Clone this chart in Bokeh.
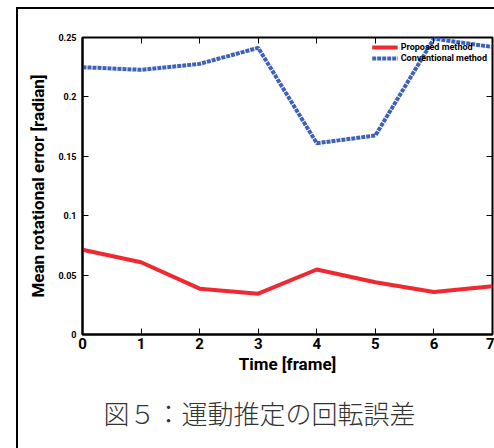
from bokeh.plotting import figure
from bokeh.models import (Range1d, FixedTicker, LinearAxis, Legend, LegendItem, Title)
from bokeh.embed import file_html
from bokeh.resources import INLINE

frames = [0, 1, 2, 3, 4, 5, 6, 7]
proposed = [0.0714, 0.0608, 0.0386, 0.0344, 0.0547, 0.0440, 0.0358, 0.0406]
conventional = [0.2250, 0.2228, 0.2278, 0.2413, 0.1610, 0.1675, 0.2490, 0.2420]
y_ticks = [0, 0.05, 0.1, 0.15, 0.2, 0.25]
y_tick_labels = ["0", "0.05", "0.1", "0.15", "0.2", "0.25"]
series_names = ["Proposed method", "Conventional method"]
x_title = "Time [frame]"
y_title = "Mean rotational error [radian]"
caption = "図５：運動推定の回転誤差"

FONT = "Roboto"

p = figure(width=494, height=448, output_backend="svg", toolbar_location=None,
           x_range=Range1d(0, 7), y_range=Range1d(0, 0.25),
           min_border_left=82, min_border_top=37, min_border_right=2,
           min_border_bottom=114)
p.grid.visible = False
p.outline_line_color = "black"
p.outline_line_width = 2
p.background_fill_color = "white"
p.border_fill_alpha = 0
p.styles = {
    "background": "linear-gradient(#000, #000) 16px 7px / 2px 100% no-repeat, "
                  "linear-gradient(#000, #000) 16px 7px / 100% 2px no-repeat, #ffffff"
}

# bottom axis
xa = p.xaxis[0]
xa.ticker = FixedTicker(ticks=frames)
xa.major_tick_in = 6
xa.major_tick_out = 0
xa.minor_tick_line_color = None
xa.axis_line_width = 2
xa.major_label_text_font = FONT
xa.major_label_text_font_style = "bold"
xa.major_label_text_font_size = "15px"
xa.major_label_text_color = "black"
xa.major_label_standoff = 3
xa.axis_label = x_title
xa.axis_label_text_font = FONT
xa.axis_label_text_font_style = "bold"
xa.axis_label_text_font_size = "17px"
xa.axis_label_text_color = "black"
xa.axis_label_standoff = 2

# left axis
ya = p.yaxis[0]
ya.ticker = FixedTicker(ticks=y_ticks)
ya.major_label_overrides = {t: l for t, l in zip(y_ticks, y_tick_labels)}
ya.major_tick_in = 6
ya.major_tick_out = 0
ya.minor_tick_line_color = None
ya.axis_line_width = 2
ya.major_label_text_font = FONT
ya.major_label_text_font_style = "bold"
ya.major_label_text_font_size = "9px"
ya.major_label_text_color = "black"
ya.major_label_standoff = 6
ya.axis_label = y_title
ya.axis_label_text_font = FONT
ya.axis_label_text_font_style = "bold"
ya.axis_label_text_font_size = "17px"
ya.axis_label_text_color = "black"
ya.axis_label_standoff = 7

# mirrored ticks (no labels)
top = LinearAxis(ticker=FixedTicker(ticks=frames), major_tick_in=6, major_tick_out=0,
                 minor_tick_line_color=None, major_label_text_font_size="1px",
                 major_label_text_color=None, major_label_standoff=0,
                 axis_line_color=None)
right = LinearAxis(ticker=FixedTicker(ticks=y_ticks), major_tick_in=6, major_tick_out=0,
                   minor_tick_line_color=None, major_label_text_font_size="1px",
                   major_label_text_color=None, major_label_standoff=0,
                   axis_line_color=None)
p.add_layout(top, "above")
p.add_layout(right, "right")

r1 = p.line(frames, proposed, line_color="#EE2A30", line_width=4)
r2 = p.line(frames, conventional, line_color="#3F62B8", line_width=4, line_dash="4 1")

legend = Legend(items=[LegendItem(label=series_names[0], renderers=[r1]),
                       LegendItem(label=series_names[1], renderers=[r2])],
                location="top_right", background_fill_alpha=0, border_line_alpha=0,
                label_text_font=FONT, label_text_font_style="bold",
                label_text_font_size="9px", label_text_color="black",
                glyph_width=26, glyph_height=8,
                label_height=8, spacing=1, padding=2, margin=3, label_standoff=3)
p.add_layout(legend)

cap = Title(text=caption, align="left", offset=21, standoff=30,
            text_font="'Noto Sans CJK JP Light', 'Noto Sans CJK JP'",
            text_font_size="26px", text_font_style="normal", text_color="#333333")
p.add_layout(cap, "below")

open("out.html", "w").write(file_html(p, INLINE))
